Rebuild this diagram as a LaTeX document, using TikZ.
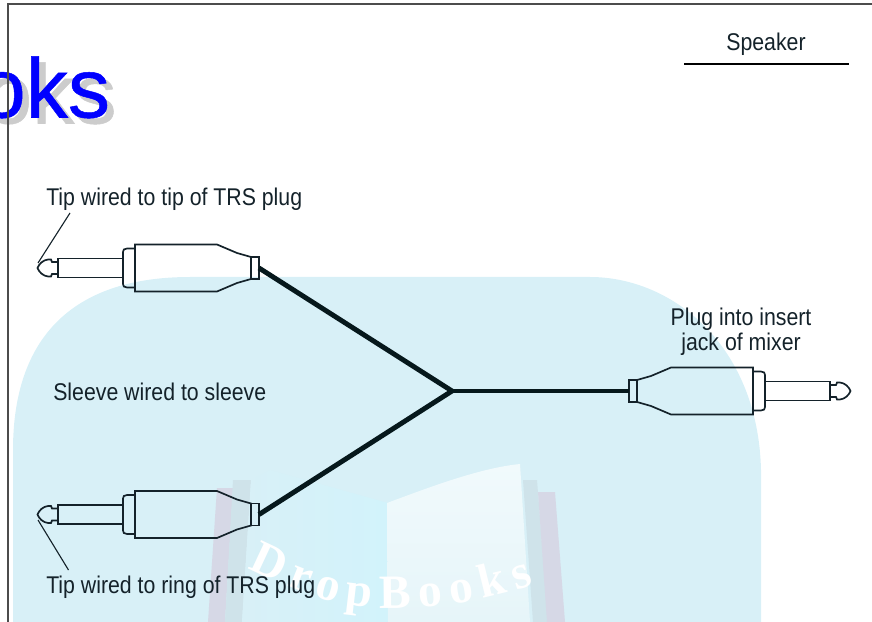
\documentclass[tikz,border=0pt]{standalone}
\usepackage{fontspec}
\setmainfont{Liberation Sans}
\newfontfamily\labelfont[FakeStretch=0.88]{Liberation Sans}
\newfontfamily\titlefont[FakeBold=0.6]{Liberation Sans}
\newfontfamily\brandfont{Liberation Serif}
\usetikzlibrary{decorations.text}
\definecolor{wash}{HTML}{D8F0F7}
\definecolor{washlight}{HTML}{D2F3FB}
\definecolor{cable}{HTML}{06181C}
\definecolor{ink}{HTML}{14222A}
\definecolor{spine}{HTML}{D6D8E6}
\definecolor{spinedark}{HTML}{CFE3EA}
\definecolor{pagewash}{HTML}{E6F5F9}
\definecolor{pagewhite}{HTML}{F1FAFC}
\tikzset{
  lbl/.style={font=\labelfont\fontsize{17.2}{17.2}\selectfont,text=ink,inner sep=0pt},
  bigtitle/.style={anchor=base west,inner sep=0pt,font=\titlefont\fontsize{60}{60}\selectfont},
  wire/.style={line width=3.5pt,cable},
  leader/.style={line width=0.8pt,ink},
  plugline/.style={line width=1.2pt,ink},
  plug/.pic={
    \draw[plugline] (-201,-6) -- (-207,-6) -- (-208,-8.5) -- (-211,-8.5) .. controls (-216,-8) and (-220,-4) .. (-221.5,0)
      .. controls (-220,4) and (-216,8) .. (-211,8.5) -- (-208,8.5) -- (-207,6) -- (-201,6) -- cycle;
    \draw[plugline] (-201,-9.5) rectangle (-136,9.5);
    \draw[plugline] (-124,-19.5) -- (-132,-19.5) .. controls (-135,-19.5) and (-136,-18) .. (-136,-16) -- (-136,16) .. controls (-136,18) and (-135,19.5) .. (-132,19.5) -- (-124,19.5);
    \draw[plugline] (-124,-23.5) -- (-42,-23.5) -- (-22,-15) -- (-8,-11) -- (-8,11) -- (-22,15) -- (-42,23.5) -- (-124,23.5) -- cycle;
    \draw[plugline] (-8,-11) rectangle (0,11);
    \coordinate (-end) at (0,0);
  }
}
\begin{document}
\begin{tikzpicture}[x=0.025cm,y=-0.025cm]
  \useasboundingbox (0,0) rectangle (872,622);
  \begin{scope}
    \clip (0,0) rectangle (872,622);
    % washed backdrop
    \fill[wash] (13,622) -- (13,450) .. controls (13,340) and (70,277) .. (190,277) -- (590,277) .. controls (672,277) and (758,345) .. (761,470) -- (761,622) -- cycle;
    % book behind
    \fill[spine] (208,622) -- (217,488) -- (233,488) -- (225,622) -- cycle;
    \fill[spinedark] (225,622) -- (233,480) -- (251,480) -- (242,622) -- cycle;
    \shade[left color=wash,right color=washlight] (242,622) -- (251,480) -- (270,470) -- (388,503) -- (388,622) -- cycle;
    \fill[spinedark] (533,622) -- (523,480) -- (537,480) -- (548,622) -- cycle;
    \fill[spine] (547,622) -- (538,492) -- (555,492) -- (565,622) -- cycle;
    \shade[bottom color=pagewash,top color=pagewhite] (388,622) -- (387,503) .. controls (430,487) and (480,468) .. (520,464) -- (530,622) -- cycle;
    \path[decorate,decoration={text along path,text align=fit to path,
      text={|\brandfont\bfseries\fontsize{34}{34}\selectfont\color{white}|DropBooks}}]
      (248,568) .. controls (310,598) and (340,608) .. (390,608) .. controls (440,608) and (490,600) .. (534,584);
    % big title
    \node[bigtitle,text=black!20] (titleback) at (-15,123.5) {oks};
    \node[bigtitle,text=blue] (title) at (-21.5,117.5) {oks};
  \end{scope}
  % page frame
  \draw[line width=1pt,black!70] (8,622) -- (8,4) -- (872,4);
  \node[lbl,anchor=base] (speaker) at (766,50.5) {Speaker};
  \draw[line width=1.2pt] (684,64) -- (849,64);

  \coordinate (junction) at (452,391);
  \pic (plugtop) at (259,268) {plug};
  \pic (plugbot) at (259,514.5) {plug};
  \pic[xscale=-1] (plugmix) at (629,391) {plug};
  \draw[wire] (plugtop-end) -- (junction);
  \draw[wire] (plugbot-end) -- (junction);
  \draw[wire] (plugmix-end) -- (junction);

  \node[lbl,anchor=base west] (tiptop) at (46,205.5) {Tip wired to tip of TRS plug};
  \node[lbl,anchor=base west] (tipring) at (46,593) {Tip wired to ring of TRS plug};
  \node[lbl,anchor=base west] (sleeve) at (53,400) {Sleeve wired to sleeve};
  \node[lbl,anchor=base] (insert) at (741,325) {Plug into insert};
  \node[lbl,anchor=base] (jack) at (741,350) {jack of mixer};

  \coordinate (tiptopend) at (38,263);
  \coordinate (tipringend) at (38,520);
  \draw[leader] (70,213) -- (tiptopend);
  \draw[leader] (68.5,570) -- (tipringend);
\end{tikzpicture}
\end{document}
